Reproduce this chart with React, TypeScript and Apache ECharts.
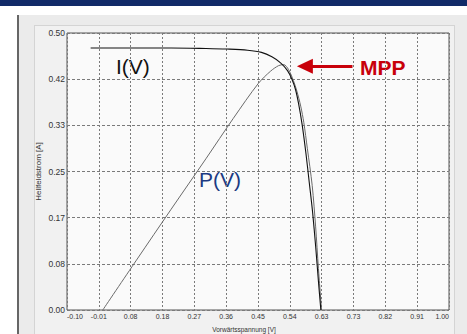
import React, { useEffect, useRef } from "react";
import * as echarts from "echarts";

// I(V) curve: voltage [V] and current [A]
const iVolt = [-0.032, 0.1, 0.2, 0.3, 0.36, 0.42, 0.46, 0.49, 0.515, 0.535, 0.548, 0.558, 0.567, 0.577, 0.588, 0.598, 0.607, 0.616, 0.624, 0.631];
const iCurr = [0.473, 0.473, 0.473, 0.472, 0.471, 0.469, 0.465, 0.457, 0.446, 0.432, 0.416, 0.398, 0.372, 0.335, 0.283, 0.228, 0.178, 0.115, 0.052, 0.0];

// P(V) curve (scaled to the current axis)
const pVolt = [0.003, 0.1, 0.2, 0.3, 0.379, 0.451, 0.486, 0.509, 0.524, 0.538, 0.552, 0.562, 0.573, 0.582, 0.592, 0.606, 0.616, 0.624, 0.633];
const pVal = [0.0, 0.09, 0.182, 0.273, 0.346, 0.409, 0.431, 0.441, 0.443, 0.434, 0.414, 0.395, 0.368, 0.338, 0.292, 0.225, 0.15, 0.075, 0.0];

// Axis tick labels
const xTickLabels = ["-0.10", "-0.01", "0.08", "0.18", "0.27", "0.36", "0.45", "0.54", "0.63", "0.73", "0.82", "0.91", "1.00"];
const yTickLabels = ["0.00", "0.08", "0.17", "0.25", "0.33", "0.42", "0.50"];

// MPP arrow (voltage, current)
const mppArrowFrom = [0.722, 0.44];
const mppArrowTo = [0.585, 0.44];

const RED = "#c8000a";

export default function App() {
  const ref = useRef<HTMLDivElement>(null);
  useEffect(() => {
    if (!ref.current) return;
    const chart = echarts.init(ref.current, null, { renderer: "svg" });
    const font = "'Liberation Sans', Arial, sans-serif";
    const grid = "#7a7a7a";
    chart.setOption({
      animation: false,
      backgroundColor: "transparent",
      grid: {
        left: 67,
        right: 18,
        top: 33,
        bottom: 24,
        show: true,
        backgroundColor: "#fafafa",
        borderColor: "#555",
        borderWidth: 1,
      },
      xAxis: [
        { type: "value", min: -0.1, max: 1.0, show: false },
        {
          type: "value",
          position: "bottom",
          min: 0,
          max: xTickLabels.length - 1,
          interval: 1,
          axisLine: { show: false },
          axisTick: { show: false },
          splitLine: { show: true, lineStyle: { color: grid, type: [2, 2], width: 1 } },
          axisLabel: {
            margin: 3,
            fontSize: 7,
            color: "#333",
            fontFamily: font,
            alignMinLabel: "left",
            alignMaxLabel: "right",
            formatter: (v: number) => xTickLabels[Math.round(v)] ?? "",
          },
        },
      ],
      yAxis: [
        { type: "value", min: 0, max: 0.5, show: false },
        {
          type: "value",
          position: "left",
          min: 0,
          max: yTickLabels.length - 1,
          interval: 1,
          axisLine: { show: false },
          axisTick: { show: false },
          splitLine: { show: true, lineStyle: { color: grid, type: [3, 2], width: 1 } },
          axisLabel: {
            margin: 2,
            fontSize: 8.5,
            color: "#333",
            fontFamily: font,
            formatter: (v: number) => yTickLabels[Math.round(v)] ?? "",
          },
          name: "Hellfeldstrom [A]",
          nameLocation: "middle",
          nameGap: 4,
          nameMoveOverlap: false,
          nameTextStyle: { fontSize: 8, color: "#333", fontFamily: font, padding: [0, 0, 21, 0] },
        },
      ],
      series: [
        {
          type: "line",
          xAxisIndex: 0,
          yAxisIndex: 0,
          data: pVolt.map((v, i) => [v, pVal[i]]),
          showSymbol: false,
          smooth: 0.3,
          lineStyle: { color: "#6a6a6a", width: 1 },
          z: 2,
        },
        {
          type: "line",
          xAxisIndex: 0,
          yAxisIndex: 0,
          data: iVolt.map((v, i) => [v, iCurr[i]]),
          showSymbol: false,
          smooth: 0.3,
          lineStyle: { color: "#111", width: 1.1 },
          z: 3,
          markLine: {
            silent: true,
            symbol: ["none", "triangle"],
            symbolSize: [15, 16],
            label: { show: false },
            lineStyle: { color: RED, width: 3, type: "solid" },
            data: [[{ coord: mppArrowFrom }, { coord: mppArrowTo }]],
          },
        },
      ],
      graphic: [
        {
          type: "text",
          x: 244,
          y: 329,
          style: { text: "Vorwärtsspannung [V]", fontSize: 6.5, fill: "#333", fontFamily: font, align: "center", verticalAlign: "middle" },
        },
        {
          type: "text",
          x: 116,
          y: 66.5,
          style: { text: "I(V)", fontSize: 21, fill: "#111", fontFamily: font, align: "left", verticalAlign: "middle" },
        },
        {
          type: "text",
          x: 199,
          y: 179,
          style: { text: "P(V)", fontSize: 21, fill: "#1c3a82", fontFamily: font, align: "left", verticalAlign: "middle" },
        },
        {
          type: "text",
          x: 360,
          y: 67.5,
          style: { text: "MPP", fontSize: 21, fontWeight: "bold", fill: RED, fontFamily: font, align: "left", verticalAlign: "middle" },
        },
      ],
    });
    return () => chart.dispose();
  }, []);

  return (
    <div style={{ position: "fixed", left: 0, top: 0, width: 467, height: 334, background: "#fff", overflow: "hidden" }}>
      <div style={{ position: "absolute", left: 0, top: 0, width: 467, height: 6, background: "#112a68" }} />
      <div
        style={{
          position: "absolute",
          left: 17,
          top: 15,
          width: 450,
          height: 319,
          background: "#ebebeb",
          borderLeft: "2px solid #666",
          boxSizing: "border-box",
        }}
      />
      <div
        style={{
          position: "absolute",
          left: 34,
          top: 25,
          width: 421,
          height: 320,
          background: "#f1f1f1",
          border: "1px solid #d4d4d4",
          boxSizing: "border-box",
        }}
      />
      <div ref={ref} style={{ position: "absolute", left: 0, top: 0, width: 467, height: 334 }} />
    </div>
  );
}
